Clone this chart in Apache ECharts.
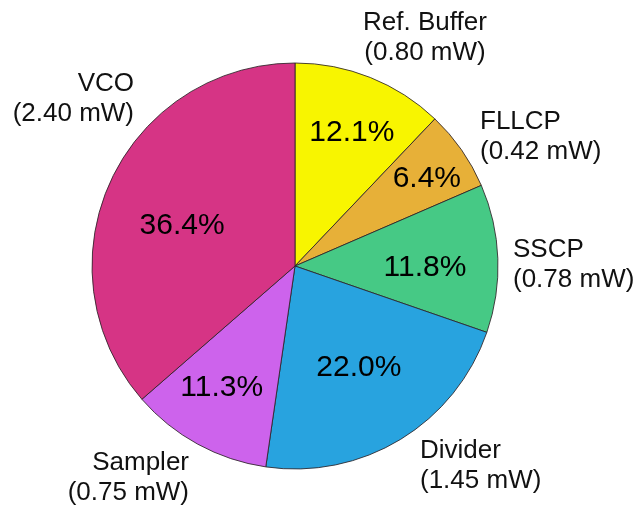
<!DOCTYPE html>
<html>
<head>
<meta charset="utf-8">
<script src="https://cdn.jsdelivr.net/npm/echarts@6/dist/echarts.min.js"></script>
<style>
  html, body { margin: 0; padding: 0; background: #ffffff; }
  #chart { width: 636px; height: 510px; }
</style>
</head>
<body>
<div id="chart"></div>
<script>
// Power breakdown of the PLL blocks
const blocks = ['Ref. Buffer', 'FLLCP', 'SSCP', 'Divider', 'Sampler', 'VCO'];
const powerMW = ['0.80', '0.42', '0.78', '1.45', '0.75', '2.40'];
const sharePct = [12.1, 6.4, 11.8, 22.0, 11.3, 36.4];

const sliceColors = ['#f8f500', '#e7b038', '#46c985', '#28a3df', '#cd63ec', '#d63485'];

const CENTER = [295, 266];
const RADIUS = 203;

// Percent labels: radial fraction of the radius and small angular nudge (deg)
const pctLabelPlace = [
  [0.715, -1.3], [0.78, -1.3], [0.64, -3.0],
  [0.59, 0.9], [0.70, -2.4], [0.59, 4.9]
];
// Name labels: anchor x, block centre y, alignment
const nameLabelPlace = [
  [425, 38, 'center'], [480, 137, 'left'], [513, 265, 'left'],
  [420, 466, 'left'], [189, 478, 'right'], [134, 99, 'right']
];

const sliceData = blocks.map((name, i) => ({
  name: name,
  value: sharePct[i],
  itemStyle: { color: sliceColors[i] }
}));

const chart = echarts.init(document.getElementById('chart'), null, { renderer: 'canvas' });

chart.setOption({
  backgroundColor: '#ffffff',
  animation: false,
  series: [
    {
      type: 'pie',
      center: CENTER,
      radius: RADIUS,
      startAngle: 90,
      clockwise: true,
      silent: true,
      avoidLabelOverlap: false,
      data: sliceData,
      itemStyle: { borderColor: 'rgba(45,35,40,0.85)', borderWidth: 1 },
      label: {
        show: true,
        position: 'inside',
        fontFamily: 'Liberation Sans, Arial, sans-serif',
        fontSize: 30,
        color: '#000000',
        formatter: p => p.value.toFixed(1) + '%'
      },
      labelLine: { show: false },
      labelLayout: function (p) {
        const r = p.labelRect;
        const cx = r.x + r.width / 2;
        const cy = r.y + r.height / 2;
        const place = pctLabelPlace[p.dataIndex];
        const ang = Math.atan2(cy - CENTER[1], cx - CENTER[0]) - place[1] * Math.PI / 180;
        const d = RADIUS * place[0];
        return {
          x: CENTER[0] + d * Math.cos(ang),
          y: CENTER[1] + d * Math.sin(ang),
          align: 'center',
          verticalAlign: 'middle'
        };
      }
    },
    {
      type: 'pie',
      center: CENTER,
      radius: RADIUS,
      startAngle: 90,
      clockwise: true,
      silent: true,
      avoidLabelOverlap: false,
      z: 3,
      data: blocks.map((name, i) => ({ name: name, value: sharePct[i] })),
      itemStyle: { color: 'rgba(0,0,0,0)', borderWidth: 0 },
      label: {
        show: true,
        position: 'outside',
        fontFamily: 'Liberation Sans, Arial, sans-serif',
        fontSize: 26,
        lineHeight: 30,
        color: '#111111',
        formatter: p => p.name + '\n(' + powerMW[p.dataIndex] + ' mW)'
      },
      labelLine: { show: false },
      labelLayout: function (p) {
        const place = nameLabelPlace[p.dataIndex];
        return { x: place[0], y: place[1], align: place[2], verticalAlign: 'middle' };
      }
    }
  ]
});
</script>
</body>
</html>
